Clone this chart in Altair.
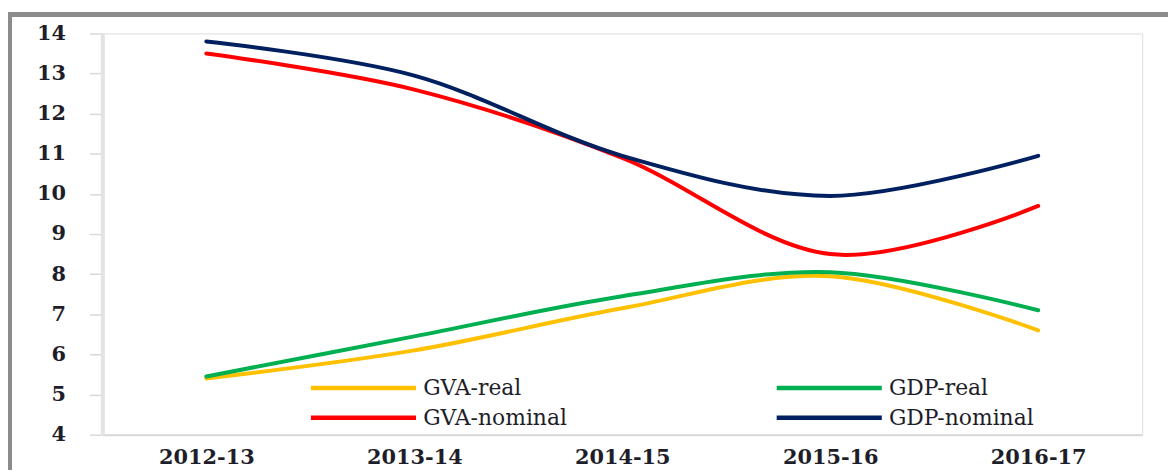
import altair as alt
import pandas as pd

years = ["2012-13", "2013-14", "2014-15", "2015-16", "2016-17"]
gva_real = [5.4, 6.1, 7.15, 7.95, 6.6]
gdp_real = [5.45, 6.45, 7.45, 8.05, 7.1]
gva_nominal = [13.5, 12.6, 10.9, 8.5, 9.7]
gdp_nominal = [13.8, 12.95, 10.95, 9.95, 10.95]

series_names = ["GVA-real", "GDP-real", "GVA-nominal", "GDP-nominal"]
series_colors = ["#FFC000", "#00B050", "#FF0000", "#002060"]
y_ticks = [4, 5, 6, 7, 8, 9, 10, 11, 12, 13, 14]

rows = []
for name, vals in zip(series_names, [gva_real, gdp_real, gva_nominal, gdp_nominal]):
    for yr, v in zip(years, vals):
        rows.append({"year": yr, "value": v, "series": name})
df = pd.DataFrame(rows)

FONT = "DejaVu Serif"
TXT = "#1e1e2a"

lines = alt.Chart(df).mark_line(strokeWidth=4, interpolate="cardinal", strokeCap="round").encode(
    x=alt.X("year:N", sort=years, title=None,
            scale=alt.Scale(paddingInner=0, paddingOuter=0.5),
            axis=alt.Axis(labelAngle=0, ticks=False, domainColor="#d9d9d9", domainWidth=2,
                          labelFont=FONT, labelFontSize=21, labelFontWeight="bold",
                          labelColor=TXT, labelPadding=12)),
    y=alt.Y("value:Q", title=None,
            scale=alt.Scale(domain=[4, 14], nice=False, zero=False),
            axis=alt.Axis(values=y_ticks, grid=False, domainColor="#e3e3e3", domainWidth=4,
                          tickColor="#d9d9d9", tickSize=13, tickWidth=1.5,
                          labelFont=FONT, labelFontSize=21, labelFontWeight="bold",
                          labelColor=TXT, labelPadding=24)),
    color=alt.Color("series:N", sort=series_names,
                    scale=alt.Scale(domain=series_names, range=series_colors),
                    legend=alt.Legend(title=None, orient="none", legendX=199, legendY=346,
                                      columns=2, direction="horizontal",
                                      symbolType="M0,0H20", symbolSize=112, symbolStrokeWidth=4.5,
                                      labelFont=FONT, labelFontSize=22, labelColor=TXT,
                                      labelOffset=102, columnPadding=200, rowPadding=8)),
)

frame_left = alt.Chart(df).mark_rule(color="#8c8c8c", strokeWidth=4).encode(
    x=alt.value(-93), y=alt.value(-19), y2=alt.value(445))
frame_top = alt.Chart(df).mark_rule(color="#8c8c8c", strokeWidth=4).encode(
    x=alt.value(-95), x2=alt.value(1080), y=alt.value(-19))

chart = alt.layer(frame_left, frame_top, lines).properties(
    width=1047, height=404,
    autosize=alt.AutoSizeParams(type="none"),
    padding={"left": 95, "top": 24, "right": 26, "bottom": 34},
).configure_view(stroke=None).configure(background="white")

chart.save("out.html", embed_options={"renderer": "svg", "actions": False})
